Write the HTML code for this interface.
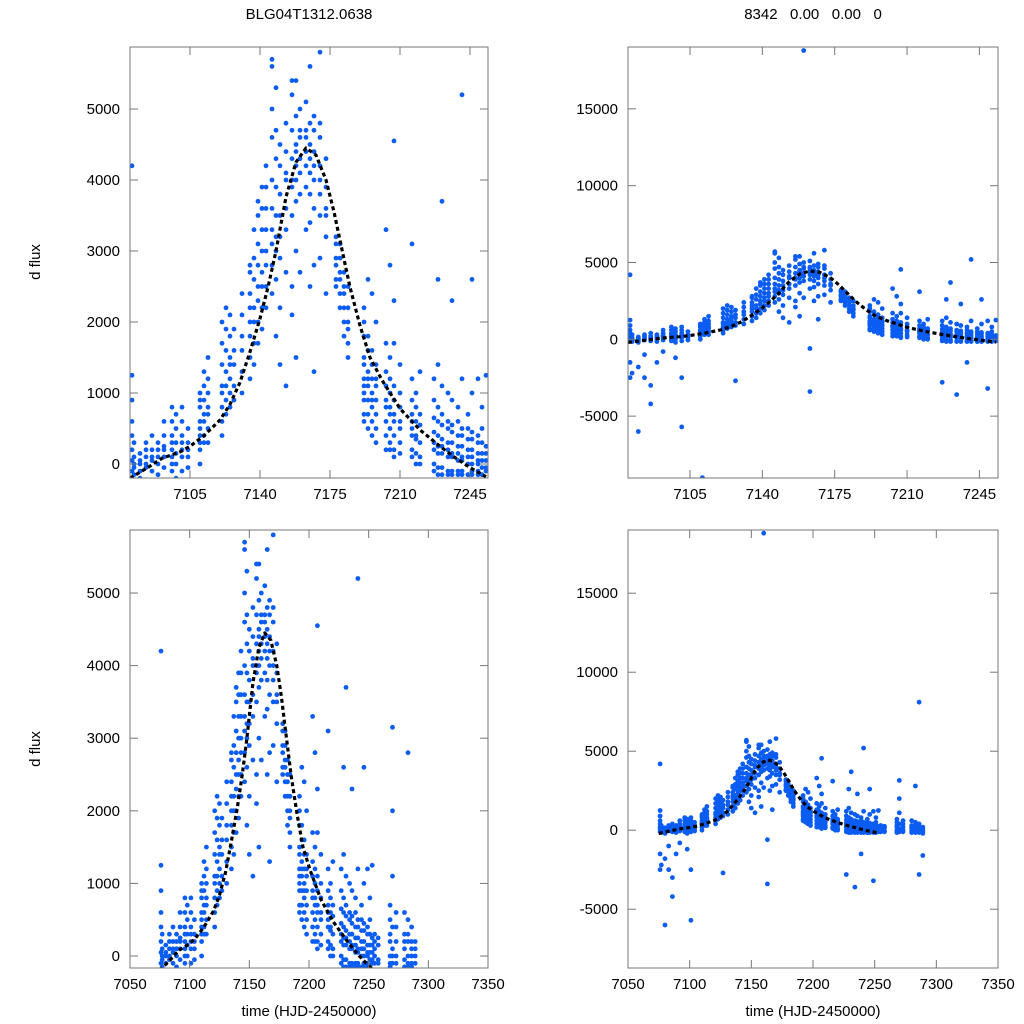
<!DOCTYPE html>
<html><head><meta charset="utf-8"><title>BLG04T1312.0638</title>
<style>
html,body{margin:0;padding:0;background:#fff;width:1024px;height:1024px;overflow:hidden;}
svg{display:block;font-family:"Liberation Sans",sans-serif;}
</style></head>
<body>
<svg id="chart" width="1024" height="1024" viewBox="0 0 1024 1024" xmlns="http://www.w3.org/2000/svg">
<rect width="1024" height="1024" fill="#fff"/>
<text x="309" y="19" font-size="15" text-anchor="middle">BLG04T1312.0638</text>
<text x="813" y="19" font-size="15" text-anchor="middle" xml:space="preserve">8342   0.00   0.00   0</text>
<text transform="translate(40,262) rotate(-90)" font-size="15" text-anchor="middle">d flux</text>
<text transform="translate(40,749) rotate(-90)" font-size="15" text-anchor="middle">d flux</text>
<text x="309" y="1016" font-size="15" text-anchor="middle">time (HJD-2450000)</text>
<text x="813" y="1016" font-size="15" text-anchor="middle">time (HJD-2450000)</text>
</svg>
<script>
// observation nights and fluxes per night
const nights = [7076,7077,7080,7083,7086,7089,7092,7096,7098,7101,7104,7110,7111,7112,7114,7121,7123,7125,7127,7131,7135,7137,7139,7141,7143,7146,7148,7150,7153,7156,7158,7160,7163,7165,7167,7170,7173,7178,7180,7182,7184,7192,7194,7196,7198,7203,7205,7207,7210,7216,7218,7220,7227,7229,7231,7234,7236,7239,7241,7244,7246,7249,7251,7253,7255,7258,7268,7270,7273,7280,7283,7286,7289];
const nightFlux = [
[1250,900,600,400,200,50,-100,4200,-1500,-2500],
[0,100,-150,300,-50,-2200],
[-100,50,150,-200,0,-6000,-1800],
[100,-50,200,300,0,-1000,-2500],
[200,50,-100,400,100,-3000,-4200],
[100,300,0,-150,200,-1500],
[250,100,400,-50,600,200,-800],
[200,400,100,600,300,-100,800,0],
[300,500,150,700,0,-200,-1200],
[400,200,600,800,100,-100,300,-5700,-2500],
[300,500,100,200,-50],
[500,800,300,1000,600,200,400,900,0],
[-9000],
[600,900,400,1100,700,300,1300],
[700,1000,500,1200,300,800,1500],
[800,1100,1400,600,1700,1000,400,2000],
[900,1300,1600,1900,1100,700,2200],
[1000,1500,1800,1200,800,2100,1400],
[1100,1600,900,1400,1900,-2700],
[1300,1800,2100,1600,1000,2400],
[1500,2000,2400,1800,2700,1200,2200,2800],
[1700,2200,2600,2000,1400,2900,3300],
[2000,2500,2800,2300,3100,1700,3500,3700],
[2200,2700,3000,2500,3300,3600,1900,3900],
[2500,3000,3300,2800,3600,3900,2200,4200],
[2800,3300,3600,4000,3100,2400,4600,5000,5700,5600],
[3000,3500,3900,4300,3200,2600,4700,1800,5300],
[3200,3800,4200,3500,2200,4500,2900,1400],
[3600,4100,3300,4400,2700,4800,1100,4000],
[3900,4300,4700,3500,5200,2500,4000,5400,2100],
[4000,4500,4900,3700,5400,4200,3000,1500,4400],
[4100,4600,3800,5000,4300,2700,4700,18800],
[4200,4700,3900,4400,5100,3300,4600,-600,-3400],
[4100,4500,3800,4800,4300,3400,5600,2500],
[4000,4400,4700,3600,4200,2800,4900,1300],
[3800,4200,4600,3500,4800,2900,5800,4000],
[3500,3900,4300,3200,2400,3600],
[2900,3200,2600,3100,2500,2800],
[2600,2900,2400,3100,2200,2700],
[2400,2700,2200,2500,2000,1800],
[2200,2500,1900,1700,2000,1500],
[1400,1800,1100,900,2000,1500,700,1200,1000,600,2200],
[1200,1600,900,700,1800,1100,500,1300,2600],
[1000,1400,800,600,1600,400,1200,900,2400],
[900,1200,700,500,1400,300,1100,2000],
[800,1100,600,400,1300,200,900,1700,3300],
[700,1000,500,300,1200,200,800,1500,2800],
[600,900,400,200,1100,100,700,2300,1700,4550],
[500,800,300,1000,600,150,1400],
[400,700,200,900,500,100,1200,600,3100],
[350,600,150,800,400,0,1000],
[300,550,100,700,0,1300],
[200,450,0,650,300,-100,900,1200,-2800],
[150,400,-50,600,250,-150,800,1400,2600],
[150,350,-50,550,250,-150,700,1100,3700],
[100,300,-100,500,200,-150,600,1000,-3600],
[100,300,-100,450,150,-150,550,900,2300],
[50,250,-100,400,150,-150,600,800,-1500],
[50,250,-100,400,100,-150,500,1200,5200],
[0,200,-150,350,100,-150,500,700],
[0,200,-100,350,100,-150,450,1000,2600],
[0,150,-100,300,50,-150,400,1200,-3200],
[-50,150,-150,300,50,500,800],
[-50,150,-100,250,50,1250],
[0,200,-100,300,100],
[-50,150,250,-100],
[0,200,-100,300,700,-150,500],
[-100,100,400,0,3150,1100,2000],
[0,200,-100,400,600],
[-50,200,100,-150,300,600],
[-100,300,0,-150,200,500,2800],
[0,-150,200,-100,100,400,8100,-2800],
[0,-200,200,-100,100,-1600]
];
// model fit curve
const modelTime = [7075,7085,7091,7100,7105,7112,7120,7125,7130,7135,7140,7144,7148,7153,7158,7163,7168,7173,7177,7180,7185,7190,7195,7201,7210,7220,7230,7237,7245,7253];
const modelFlux = [-200,-30,80,170,250,400,620,840,1150,1580,2050,2490,3000,3760,4250,4450,4350,4000,3550,3150,2490,1950,1500,1180,780,480,250,100,-50,-180];
// tick labels
const xTicksTop = [7105,7140,7175,7210,7245];
const xTicksBottom = [7050,7100,7150,7200,7250,7300,7350];
const yTicksLeft = [0,1000,2000,3000,4000,5000];
const yTicksRight = [-5000,0,5000,10000,15000];

const svg = document.getElementById('chart');
const NS = 'http://www.w3.org/2000/svg';
function mk(tag, attrs, parent){ const e=document.createElementNS(NS,tag); for(const k in attrs) e.setAttribute(k,attrs[k]); parent.appendChild(e); return e; }

const panels = [
 {id:'top-left', x0:130,x1:488,y0:47,y1:478, xd:[7075,7254], yd:[-197,5873], xt:xTicksTop, yt:yTicksLeft},
 {id:'top-right', x0:628,x1:998,y0:47,y1:478, xd:[7075,7254], yd:[-9026,19026], xt:xTicksTop, yt:yTicksRight},
 {id:'bottom-left', x0:130,x1:488,y0:530,y1:968, xd:[7050,7350], yd:[-165,5868], xt:xTicksBottom, yt:yTicksLeft},
 {id:'bottom-right', x0:628,x1:998,y0:530,y1:968, xd:[7050,7350], yd:[-8720,19000], xt:xTicksBottom, yt:yTicksRight}
];

panels.forEach((p,i)=>{
  const sx = v => p.x0 + (v-p.xd[0])/(p.xd[1]-p.xd[0])*(p.x1-p.x0);
  const sy = v => p.y1 - (v-p.yd[0])/(p.yd[1]-p.yd[0])*(p.y1-p.y0);
  const g = mk('g',{},svg);
  
  
  const cp = mk('clipPath',{id:'clip'+i},g);
  mk('rect',{x:p.x0,y:p.y0,width:p.x1-p.x0,height:p.y1-p.y0},cp);
  const pts = mk('g',{'clip-path':'url(#clip'+i+')',fill:'#0a5cf2'},g);
  
  
  nights.forEach((t,j)=>{
    if (t < p.xd[0]-1 || t > p.xd[1]+1) return;
    nightFlux[j].forEach(f=>{
      if (f < p.yd[0]-200 || f > p.yd[1]+200) return;
      const c = mk('circle',{cx:sx(t).toFixed(1),cy:sy(f).toFixed(1),r:2.4},pts);
      
      
    });
  });
  const d = modelTime.map((t,j)=>(j?'L':'M')+sx(t).toFixed(1)+','+sy(modelFlux[j]).toFixed(1)).join(' ');
  const cl = mk('g',{'clip-path':'url(#clip'+i+')'},g);
  const path = mk('path',{d:d,fill:'none',stroke:'#000','stroke-width':3.2,'stroke-dasharray':'4,3','stroke-linejoin':'round'},cl);
  
  
  const fr = mk('rect',{x:p.x0,y:p.y0,width:p.x1-p.x0,height:p.y1-p.y0,fill:'none',stroke:'#777','stroke-width':1},g);
  
  
  p.xt.forEach(v=>{
    const x = sx(v);
    mk('line',{x1:x,x2:x,y1:p.y1,y2:p.y1-8,stroke:'#777'},g);
    mk('line',{x1:x,x2:x,y1:p.y0,y2:p.y0+8,stroke:'#777'},g);
    const tx = mk('text',{x:x,y:p.y1+21,'font-size':15,'text-anchor':'middle'},g);
    tx.textContent = v;
    
    
  });
  p.yt.forEach(v=>{
    const y = sy(v);
    mk('line',{x1:p.x0,x2:p.x0+8,y1:y,y2:y,stroke:'#777'},g);
    mk('line',{x1:p.x1,x2:p.x1-8,y1:y,y2:y,stroke:'#777'},g);
    const tx = mk('text',{x:p.x0-10,y:y+5,'font-size':15,'text-anchor':'end'},g);
    tx.textContent = v;
    
    
  });
});
</script>
</body></html>
